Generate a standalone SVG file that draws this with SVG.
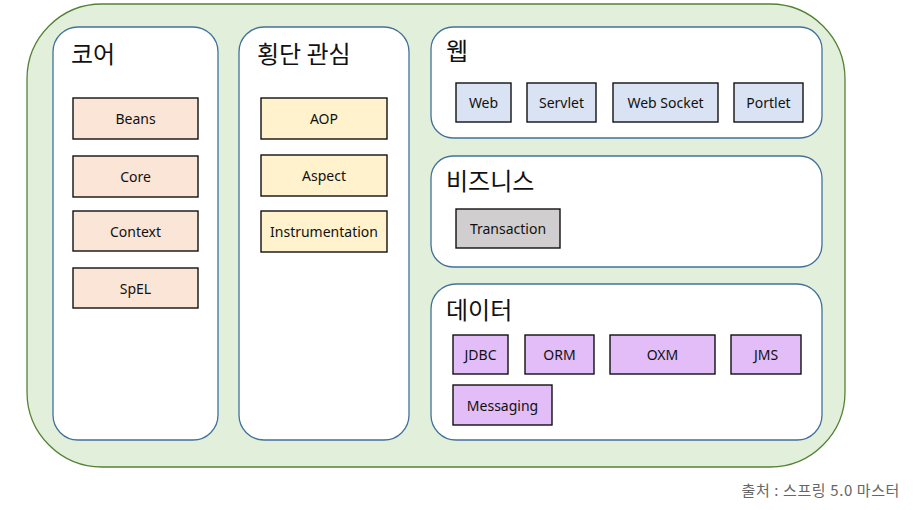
<svg xmlns="http://www.w3.org/2000/svg" width="918" height="510" viewBox="0 0 918 510">
<style>
.panel{fill:#fff;stroke:#41719c;stroke-width:1.3}
.box{stroke:#111;stroke-width:1.4}
.title{font-family:"Noto Sans CJK KR","Noto Sans",sans-serif;font-size:24px;fill:#111}
.lbl{font-family:"Noto Sans","Noto Sans CJK KR",sans-serif;font-size:14px;fill:#111;text-anchor:middle;dominant-baseline:central}
.core{fill:#fbe5d6}.cross{fill:#fff2cc}.web{fill:#dae3f3}.biz{fill:#d0cece}.data{fill:#e2bdf7}
</style>
<rect width="918" height="510" fill="#fff"/>
<g id="spring">
<rect x="27" y="4" width="818" height="463" rx="75" ry="75" fill="#e2efda" stroke="#548235" stroke-width="1.3"/>
</g>
<g id="core">
<rect class="panel" x="53" y="27" width="165" height="413" rx="25"/>
<text class="title" x="71" y="63">코어</text>
<rect class="box core" x="73" y="98" width="125" height="41"/><text class="lbl" x="135.5" y="118.5">Beans</text>
<rect class="box core" x="73" y="156" width="125" height="41"/><text class="lbl" x="135.5" y="176.5">Core</text>
<rect class="box core" x="73" y="211" width="125" height="40"/><text class="lbl" x="135.5" y="231">Context</text>
<rect class="box core" x="73" y="268" width="125" height="40"/><text class="lbl" x="135.5" y="288">SpEL</text>
</g>
<g id="cross">
<rect class="panel" x="239" y="27" width="170" height="413" rx="25"/>
<text class="title" x="257" y="63">횡단 관심</text>
<rect class="box cross" x="261" y="98" width="126" height="41"/><text class="lbl" x="324" y="118.5">AOP</text>
<rect class="box cross" x="261" y="155" width="126" height="41"/><text class="lbl" x="324" y="175.5">Aspect</text>
<rect class="box cross" x="261" y="211" width="126" height="41"/><text class="lbl" x="324" y="231.5">Instrumentation</text>
</g>
<g id="web">
<rect class="panel" x="431" y="27" width="391" height="111" rx="22"/>
<text class="title" x="446" y="60">웹</text>
<rect class="box web" x="456" y="83" width="55" height="39"/><text class="lbl" x="483.5" y="102.5">Web</text>
<rect class="box web" x="527" y="83" width="69" height="39"/><text class="lbl" x="561.5" y="102.5">Servlet</text>
<rect class="box web" x="613" y="83" width="105" height="39"/><text class="lbl" x="665.5" y="102.5">Web Socket</text>
<rect class="box web" x="734" y="83" width="69" height="39"/><text class="lbl" x="768.5" y="102.5">Portlet</text>
</g>
<g id="business">
<rect class="panel" x="431" y="156" width="391" height="111" rx="22"/>
<text class="title" x="446" y="190">비즈니스</text>
<rect class="box biz" x="456" y="209" width="104" height="39"/><text class="lbl" x="508" y="228.5">Transaction</text>
</g>
<g id="data">
<rect class="panel" x="431" y="284" width="391" height="156" rx="25"/>
<text class="title" x="446" y="319">데이터</text>
<rect class="box data" x="453" y="335" width="55" height="39"/><text class="lbl" x="480.5" y="354.5">JDBC</text>
<rect class="box data" x="525" y="335" width="69" height="39"/><text class="lbl" x="559.5" y="354.5">ORM</text>
<rect class="box data" x="610" y="335" width="105" height="39"/><text class="lbl" x="662.5" y="354.5">OXM</text>
<rect class="box data" x="731" y="335" width="70" height="39"/><text class="lbl" x="766" y="354.5">JMS</text>
<rect class="box data" x="453" y="385" width="99" height="40"/><text class="lbl" x="502.5" y="405">Messaging</text>
</g>
<g id="connectors"></g>
<text x="900" y="496" font-family="Noto Sans CJK KR,Noto Sans,sans-serif" font-size="15" letter-spacing="0.6" fill="#666" text-anchor="end">출처 : 스프링 5.0 마스터</text>
</svg>
